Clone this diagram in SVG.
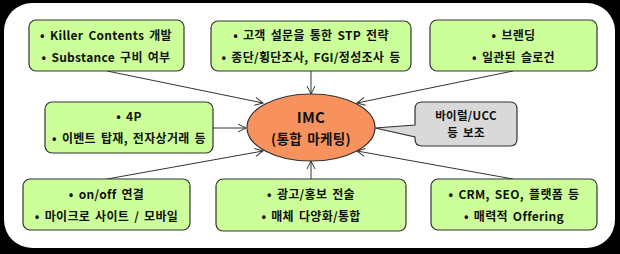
<svg xmlns="http://www.w3.org/2000/svg" width="620" height="254" viewBox="0 0 620 254">
<style>
.box{fill:#CCFF99;stroke:#333;stroke-width:1.2}
.t{font-family:"Noto Sans CJK KR","Noto Sans",sans-serif;font-size:12px;font-weight:700;fill:#111;text-anchor:middle;letter-spacing:0.3px;word-spacing:2px}
.c{stroke:#333;stroke-width:1;fill:none;marker-end:url(#ah)}
</style>
<defs>
<marker id="ah" markerWidth="10" markerHeight="10" refX="9" refY="5" orient="auto" markerUnits="userSpaceOnUse">
<path d="M1,1 L9,5 L1,9" fill="none" stroke="#333" stroke-width="1"/>
</marker>
</defs>
<rect x="0" y="0" width="620" height="254" fill="#000"/>
<rect x="4" y="3" width="611" height="245" rx="28" fill="#fff"/>
<g id="connectors">
<line class="c" x1="107" y1="71" x2="263" y2="103"/>
<line class="c" x1="311" y1="71" x2="311" y2="94"/>
<line class="c" x1="513" y1="71" x2="357" y2="103"/>
<line class="c" x1="213" y1="128" x2="246" y2="128"/>
<line class="c" x1="107" y1="179" x2="263" y2="151"/>
<line class="c" x1="311" y1="179" x2="311" y2="161"/>
<line class="c" x1="513" y1="179" x2="357" y2="151"/>
</g>
<g id="imc">
<ellipse cx="311" cy="127.5" rx="64" ry="33.5" fill="#F7925E" stroke="#333" stroke-width="1.2"/>
<text class="t" x="311" y="123" style="font-size:15px">IMC</text>
<text class="t" x="311" y="144" style="font-size:13.5px">(통합 마케팅)</text>
</g>
<g id="viral">
<path d="M422,102 H510 Q517,102 517,109 V139 Q517,146 510,146 H422 Q415,146 415,139 V137 L375,128 L415,125 V109 Q415,102 422,102 Z" fill="#D9D9D9" stroke="#333" stroke-width="1.2"/>
<text class="t" x="466" y="120" style="font-size:11.5px">바이럴/UCC</text>
<text class="t" x="466" y="136.5" style="font-size:11.5px">등 보조</text>
</g>
<g id="n1">
<rect class="box" x="29" y="20" width="155" height="51" rx="7"/>
<text class="t" x="106" y="39.5">• Killer Contents 개발</text>
<text class="t" x="106" y="61.5">• Substance 구비 여부</text>
</g>
<g id="n2">
<rect class="box" x="211" y="21" width="200" height="50" rx="7"/>
<text class="t" x="311" y="39.5">• 고객 설문을 통한 STP 전략</text>
<text class="t" x="311" y="61.5">• 종단/횡단조사, FGI/정성조사 등</text>
</g>
<g id="n3">
<rect class="box" x="430" y="20" width="167" height="51" rx="7"/>
<text class="t" x="513.5" y="39.5">• 브랜딩</text>
<text class="t" x="513.5" y="61.5">• 일관된 슬로건</text>
</g>
<g id="n4">
<rect class="box" x="45" y="102" width="168" height="51" rx="7"/>
<text class="t" x="129" y="121">• 4P</text>
<text class="t" x="129" y="143">• 이벤트 탑재, 전자상거래 등</text>
</g>
<g id="n5">
<rect class="box" x="23" y="179" width="167" height="51" rx="7"/>
<text class="t" x="106.5" y="199">• on/off 연결</text>
<text class="t" x="106.5" y="220.5">• 마이크로 사이트 / 모바일</text>
</g>
<g id="n6">
<rect class="box" x="216" y="179" width="190" height="52" rx="7"/>
<text class="t" x="311" y="199">• 광고/홍보 전술</text>
<text class="t" x="311" y="220.5">• 매체 다양화/통합</text>
</g>
<g id="n7">
<rect class="box" x="431" y="179" width="166" height="51" rx="7"/>
<text class="t" x="514" y="199">• CRM, SEO, 플랫폼 등</text>
<text class="t" x="514" y="220.5">• 매력적 Offering</text>
</g>
</svg>
